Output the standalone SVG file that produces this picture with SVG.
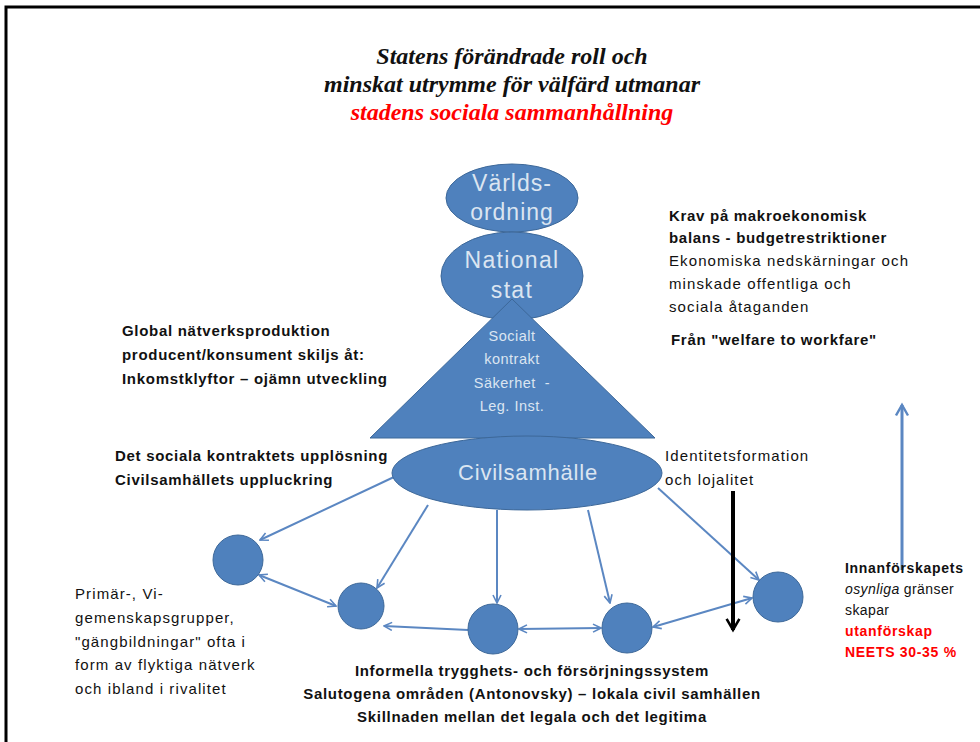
<svg xmlns="http://www.w3.org/2000/svg" width="980" height="742" viewBox="0 0 980 742">
<style>
.title{font-family:"Liberation Serif",serif;font-weight:bold;font-style:italic;font-size:24px;text-anchor:middle;fill:#111}
.red{fill:#ff0000}
.node{fill:#4f81bd;stroke:#3d6899;stroke-width:1}
.lbl{font-family:"Liberation Sans",sans-serif;fill:#dbe5f1;text-anchor:middle}
.t{font-family:"Liberation Sans",sans-serif;font-size:15px;fill:#111;letter-spacing:1.1px}
.b{font-weight:bold;letter-spacing:0.7px}
.c{stroke:#5b87c2;stroke-width:2;fill:none}
</style>
<defs>
<marker id="ah" viewBox="0 0 10 10" refX="9" refY="5" markerWidth="5" markerHeight="5" orient="auto-start-reverse" markerUnits="strokeWidth">
<path d="M1,1 L9,5 L1,9" fill="none" stroke="#5b87c2" stroke-width="1.6"/>
</marker>
<marker id="ahk" viewBox="0 0 10 10" refX="8" refY="5" markerWidth="4" markerHeight="4" orient="auto" markerUnits="strokeWidth">
<path d="M1,1 L8,5 L1,9" fill="none" stroke="#000" stroke-width="1.6"/>
</marker>
<marker id="ahb" viewBox="0 0 10 10" refX="8" refY="5" markerWidth="5" markerHeight="5" orient="auto" markerUnits="strokeWidth">
<path d="M1,1 L8,5 L1,9" fill="none" stroke="#5b87c2" stroke-width="1.6"/>
</marker>
</defs>
<rect x="0" y="0" width="980" height="742" fill="#fff"/>
<path d="M6,742 L6,7 L980,7" fill="none" stroke="#000" stroke-width="3"/>

<g id="title">
<text class="title" x="512" y="64">Statens förändrade roll och</text>
<text class="title" x="512" y="92">minskat utrymme för välfärd utmanar</text>
<text class="title red" x="512" y="120">stadens sociala sammanhållning</text>
</g>

<g id="connectors">
<line class="c" x1="394" y1="477" x2="260" y2="540" marker-end="url(#ah)"/>
<line class="c" x1="428" y1="505" x2="377" y2="588" marker-end="url(#ah)"/>
<line class="c" x1="497" y1="510" x2="497" y2="603" marker-end="url(#ah)"/>
<line class="c" x1="588" y1="510" x2="610" y2="603" marker-end="url(#ah)"/>
<line class="c" x1="658" y1="488" x2="759" y2="580" marker-end="url(#ah)"/>
<line class="c" x1="259" y1="575" x2="336" y2="606" marker-start="url(#ah)" marker-end="url(#ah)"/>
<line class="c" x1="468" y1="630" x2="384" y2="626" marker-end="url(#ah)"/>
<line class="c" x1="519" y1="629" x2="601" y2="628" marker-start="url(#ah)" marker-end="url(#ah)"/>
<line class="c" x1="653" y1="627" x2="752" y2="598" marker-start="url(#ah)" marker-end="url(#ah)"/>
<line x1="733" y1="491" x2="733" y2="630" stroke="#000" stroke-width="4" marker-end="url(#ahk)"/>
<line x1="902" y1="570" x2="902" y2="405" stroke="#5b87c2" stroke-width="3" marker-end="url(#ahb)"/>
</g>

<g id="varldsordning">
<ellipse class="node" cx="512" cy="198" rx="66" ry="34"/>
<text class="lbl" x="512" y="191" font-size="23" letter-spacing="1">Världs-</text>
<text class="lbl" x="512" y="220" font-size="23" letter-spacing="1">ordning</text>
</g>
<g id="nationalstat">
<ellipse class="node" cx="512" cy="276" rx="71" ry="44"/>
<text class="lbl" x="512" y="268" font-size="23" letter-spacing="1.3">National</text>
<text class="lbl" x="512" y="298" font-size="23" letter-spacing="1.3">stat</text>
</g>
<g id="socialtkontrakt">
<polygon class="node" points="512,299 655,438 370,438"/>
<text class="lbl" x="512" y="341" font-size="14.5" letter-spacing="0.5">Socialt</text>
<text class="lbl" x="512" y="364" font-size="14.5" letter-spacing="0.5">kontrakt</text>
<text class="lbl" x="512" y="388" font-size="14.5" letter-spacing="0.5" xml:space="preserve">Säkerhet  -</text>
<text class="lbl" x="512" y="411" font-size="14.5" letter-spacing="0.5">Leg. Inst.</text>
</g>
<g id="civilsamhalle">
<ellipse class="node" cx="527" cy="473" rx="135" ry="37"/>
<text class="lbl" x="528" y="480" font-size="22" letter-spacing="0.8">Civilsamhälle</text>
</g>
<g id="c1"><circle class="node" cx="238" cy="560" r="25"/></g>
<g id="c2"><circle class="node" cx="361" cy="606" r="23"/></g>
<g id="c3"><circle class="node" cx="493" cy="629" r="25"/></g>
<g id="c4"><circle class="node" cx="627" cy="628" r="25"/></g>
<g id="c5"><circle class="node" cx="778" cy="597" r="25"/></g>

<g id="text-global" class="t b">
<text x="122" y="336">Global nätverksproduktion</text>
<text x="122" y="360">producent/konsument skiljs åt:</text>
<text x="122" y="384">Inkomstklyftor – ojämn utveckling</text>
</g>
<g id="text-upplosning" class="t b">
<text x="115" y="461">Det sociala kontraktets upplösning</text>
<text x="115" y="485">Civilsamhällets uppluckring</text>
</g>
<g id="text-krav" class="t">
<text class="b" x="669" y="221">Krav på makroekonomisk</text>
<text class="b" x="669" y="243">balans - budgetrestriktioner</text>
<text x="669" y="266">Ekonomiska nedskärningar och</text>
<text x="669" y="289">minskade offentliga och</text>
<text x="669" y="312">sociala åtaganden</text>
<text class="b" x="671" y="345">Från "welfare to workfare"</text>
</g>
<g id="text-identitet" class="t">
<text x="665" y="461">Identitetsformation</text>
<text x="665" y="485">och lojalitet</text>
</g>
<g id="text-primar" class="t">
<text x="75" y="599">Primär-, Vi-</text>
<text x="75" y="623">gemenskapsgrupper,</text>
<text x="75" y="647">"gängbildningar" ofta i</text>
<text x="75" y="670">form av flyktiga nätverk</text>
<text x="75" y="694">och ibland i rivalitet</text>
</g>
<g id="text-bottom" class="t b">
<text x="532" y="676" text-anchor="middle">Informella trygghets- och försörjningssystem</text>
<text x="532" y="699" text-anchor="middle">Salutogena områden (Antonovsky) – lokala civil samhällen</text>
<text x="532" y="722" text-anchor="middle">Skillnaden mellan det legala och det legitima</text>
</g>
<g id="text-innanforskap" class="t">
<text class="b" x="845" y="573" font-size="14" letter-spacing="0.4">Innanförskapets</text>
<text x="845" y="594" font-size="14" letter-spacing="0.4"><tspan font-style="italic">osynliga</tspan> gränser</text>
<text x="845" y="615" font-size="14" letter-spacing="0.4">skapar</text>
<text class="b" x="845" y="636" font-size="14" letter-spacing="0.4" fill="#ff0000">utanförskap</text>
<text class="b" x="845" y="657" font-size="14" letter-spacing="0.4" fill="#ff0000">NEETS 30-35 %</text>
</g>
</svg>
